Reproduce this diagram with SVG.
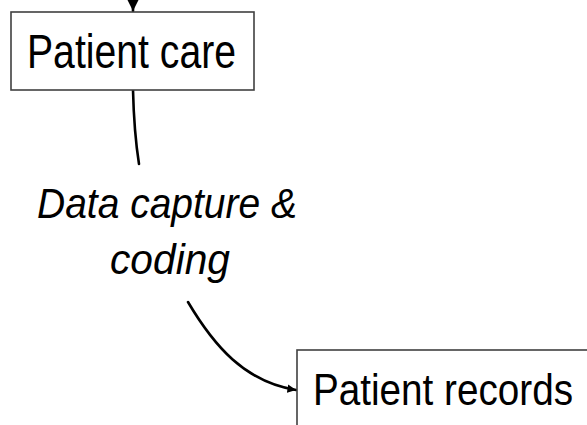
<svg xmlns="http://www.w3.org/2000/svg" width="587" height="425" viewBox="0 0 587 425">
<defs>
<style>
.box{fill:#fff;stroke:#404040;stroke-width:1.6}
.lbl{font-family:"Liberation Sans",Arial,sans-serif;fill:#000}
.it{font-style:italic}
.conn{fill:none;stroke:#000;stroke-width:2.6;stroke-linecap:round}
</style>
<marker id="ah" viewBox="0 0 10 10" refX="10" refY="5" markerWidth="4.5" markerHeight="4.5" orient="auto" markerUnits="strokeWidth">
<path d="M0,0 L10,5 L0,10 z" fill="#000"/>
</marker>
<marker id="ah2" viewBox="0 0 10 10" refX="10" refY="5" markerWidth="3.3" markerHeight="3.3" orient="auto" markerUnits="strokeWidth">
<path d="M0,0 L10,5 L0,10 z" fill="#000"/>
</marker>
</defs>
<rect width="587" height="425" fill="#fff"/>
<g id="connectors">
<path class="conn" d="M133,-2 L133,11" stroke-width="1.4" marker-end="url(#ah)"/>
<path class="conn" d="M133,90 Q134,132 139,164"/>
<path class="conn" d="M188,302 C214,346 245,382 296,390" marker-end="url(#ah2)"/>
</g>
<g id="node-patient-care">
<rect class="box" x="11" y="12" width="243" height="78"/>
<text class="lbl" x="27" y="68" font-size="48" textLength="209" lengthAdjust="spacingAndGlyphs">Patient care</text>
</g>
<g id="label-data-capture">
<text class="lbl it" x="37" y="218" font-size="43" textLength="260" lengthAdjust="spacingAndGlyphs">Data capture &amp;</text>
<text class="lbl it" x="110" y="274" font-size="43" textLength="120" lengthAdjust="spacingAndGlyphs">coding</text>
</g>
<g id="node-patient-records">
<rect class="box" x="297" y="350" width="300" height="85"/>
<text class="lbl" x="313" y="405" font-size="45" textLength="260" lengthAdjust="spacingAndGlyphs">Patient records</text>
</g>
</svg>
